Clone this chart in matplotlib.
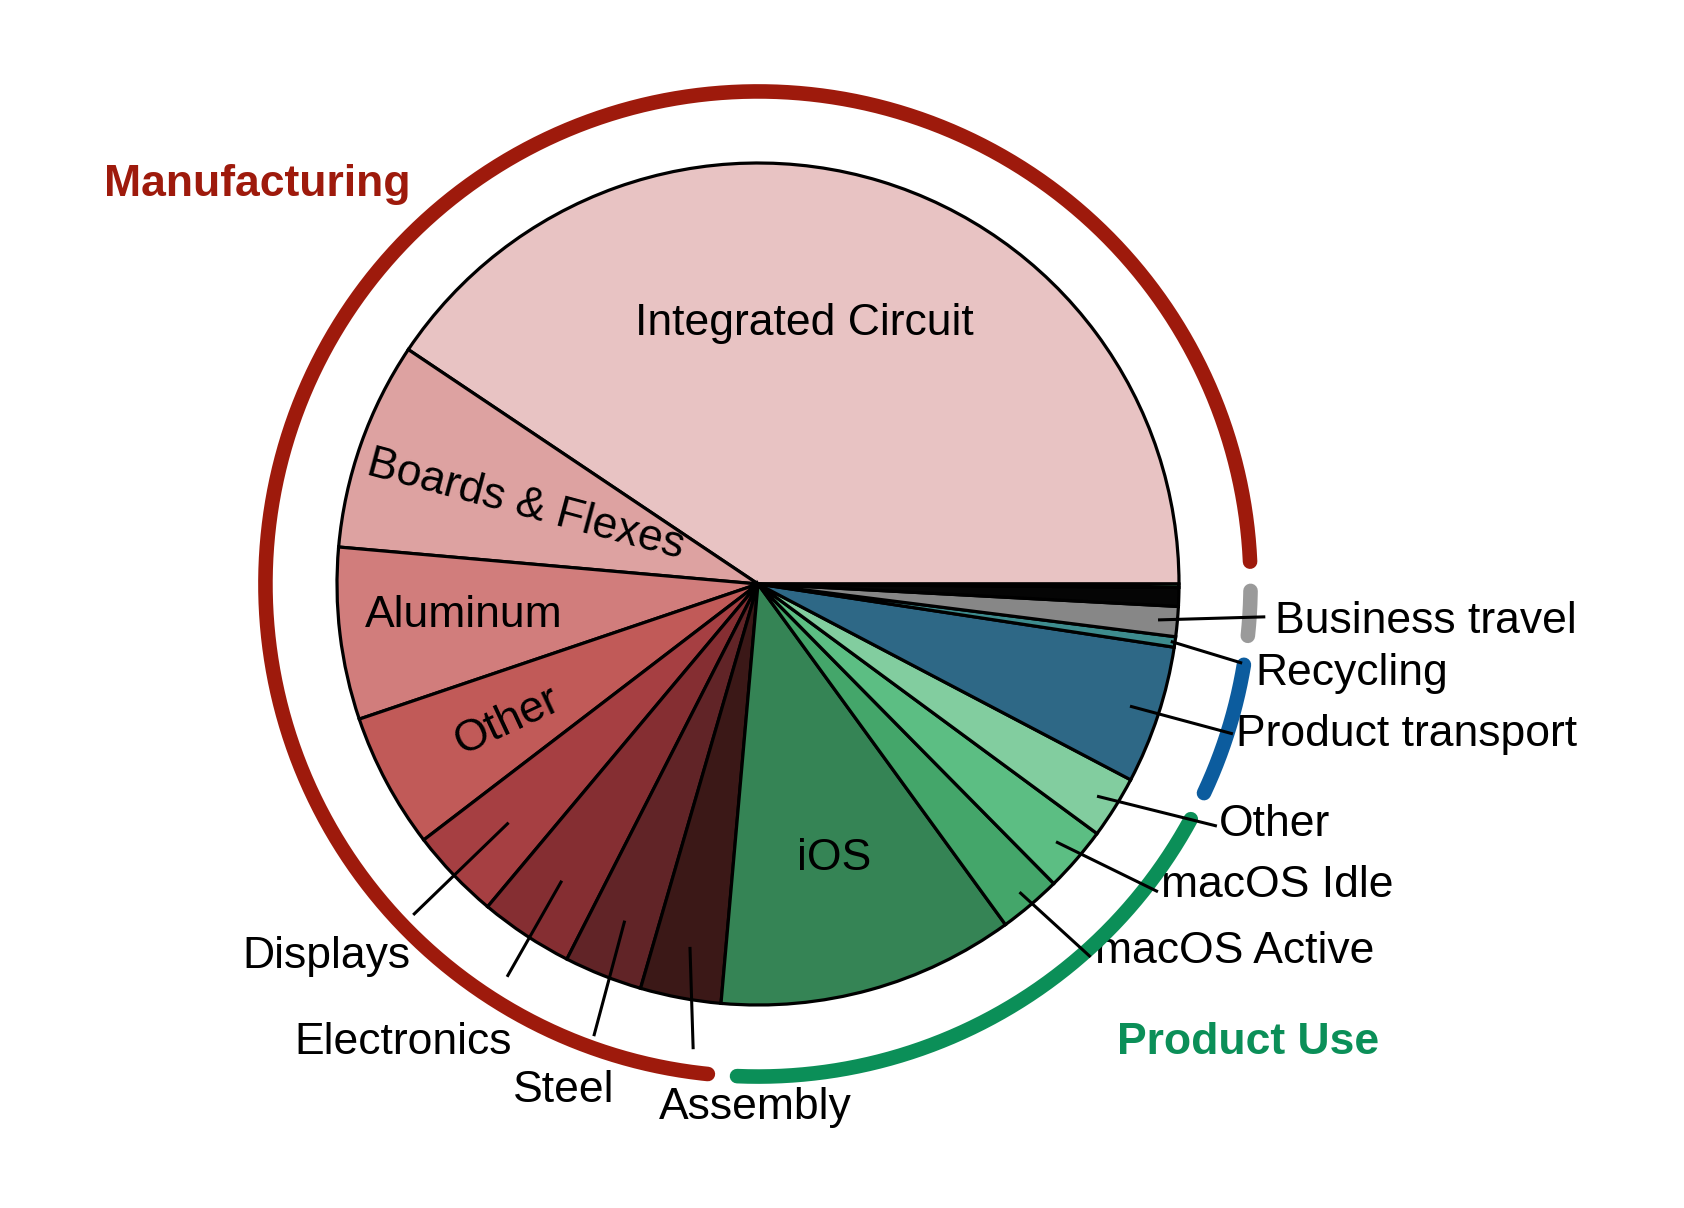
import numpy as np
import matplotlib
matplotlib.use("Agg")
import matplotlib.pyplot as plt

plt.rcParams['font.family'] = ['Liberation Sans', 'DejaVu Sans']

# ---- data ----
categories = ["Integrated Circuit", "Boards & Flexes", "Aluminum", "Other", "Displays",
              "Electronics", "Steel", "Assembly",
              "iOS", "macOS Active", "macOS Idle", "Other",
              "Product transport", "Recycling",
              "Business travel", "Other corporate", "Misc"]
values = [40.6, 8.0, 6.6, 5.2, 3.5, 3.6, 3.0, 3.1,
          11.4, 2.4, 2.5, 2.4,
          5.3, 0.4,
          1.15, 0.72, 0.13]
colors = ['#E8C3C3', '#DDA2A1', '#D17D7C', '#C15A58', '#A63F42', '#852E32', '#612427', '#3B1817',
          '#358455', '#44A66A', '#5CBE83', '#82CD9F',
          '#2E6886', '#3E8C8E',
          '#878787', '#050505', '#5BBE84']
groups = ["Manufacturing", "Product Use", "Transport", "Corporate"]
group_members = [(0, 8), (8, 12), (12, 13), (13, 17)]
group_colors = ['#9E1A0C', '#0B8F58', '#0C5C9E', '#9A9A9A']

# inside labels: index, x, y, rotation
inside_labels = [(0, 0.111, 0.618, 0), (1, -0.552, 0.188, -15), (2, -0.698, -0.074, 0),
                 (3, -0.596, -0.325, 25), (8, 0.182, -0.651, 0)]
# outside labels: index, inner radius, leader end (x,y), text (x,y), ha
outside_labels = [
    (4, 0.82, (-0.819, -0.786), (-0.826, -0.885), 'right'),
    (5, 0.845, (-0.596, -0.933), (-0.584, -1.090), 'right'),
    (6, 0.86, (-0.390, -1.074), (-0.342, -1.204), 'right'),
    (7, 0.877, (-0.154, -1.105), (-0.006, -1.244), 'center'),
    (9, 0.96, (0.790, -0.886), (0.801, -0.872), 'left'),
    (10, 0.936, (0.950, -0.731), (0.958, -0.716), 'left'),
    (11, 0.95, (1.090, -0.575), (1.094, -0.571), 'left'),
    (12, 0.93, (1.128, -0.356), (1.136, -0.357), 'left'),
    (13, 0.99, (1.150, -0.188), (1.181, -0.212), 'left'),
    (14, 0.954, (1.205, -0.078), (1.227, -0.089), 'left'),
]

W, H = 1684, 1208
fig = plt.figure(figsize=(W / 100, H / 100), dpi=100)
ax = fig.add_axes([0, 0, 1, 1])

wedges, _ = ax.pie(values, colors=colors, startangle=0, counterclock=True, radius=1.0,
                   wedgeprops=dict(edgecolor='black', linewidth=2.3))

total = sum(values)
cum = np.concatenate([[0], np.cumsum(values)]) / total * 360.0
mids = (cum[:-1] + cum[1:]) / 2

FS = 32
for i, x, y, rot in inside_labels:
    ax.text(x, y, categories[i], fontsize=FS, ha='center', va='center', rotation=rot,
            rotation_mode='anchor', color='black')

for i, rin, (ex, ey), (tx, ty), ha in outside_labels:
    a = np.deg2rad(mids[i])
    ax.plot([rin * np.cos(a), ex], [rin * np.sin(a), ey], color='black', lw=2.2,
            solid_capstyle='butt', zorder=5)
    ax.text(tx, ty, categories[i], fontsize=FS, ha=ha, va='center', color='black')

# outer ring arcs
R = 1.17
pad = 1.7
shift = 0.9
for (s, e), c in zip(group_members, group_colors):
    a0 = cum[s] + pad + shift
    a1 = cum[e] - pad + shift
    th = np.deg2rad(np.linspace(a0, a1, 400))
    ax.plot(R * np.cos(th), R * np.sin(th), color=c, lw=10.5, solid_capstyle='round', zorder=4)

ax.text(-1.190, 0.950, "Manufacturing", fontsize=FS, fontweight='bold', color=group_colors[0],
        ha='center', va='center')
ax.text(1.165, -1.090, "Product Use", fontsize=FS, fontweight='bold', color=group_colors[1],
        ha='center', va='center')

cx, cy, r = 758, 584, 421
ax.set_aspect('auto')
ax.set_xlim(-cx / r, (W - cx) / r)
ax.set_ylim((cy - H) / r, cy / r)
ax.axis('off')

fig.savefig("out.png", dpi=100, facecolor='white')
